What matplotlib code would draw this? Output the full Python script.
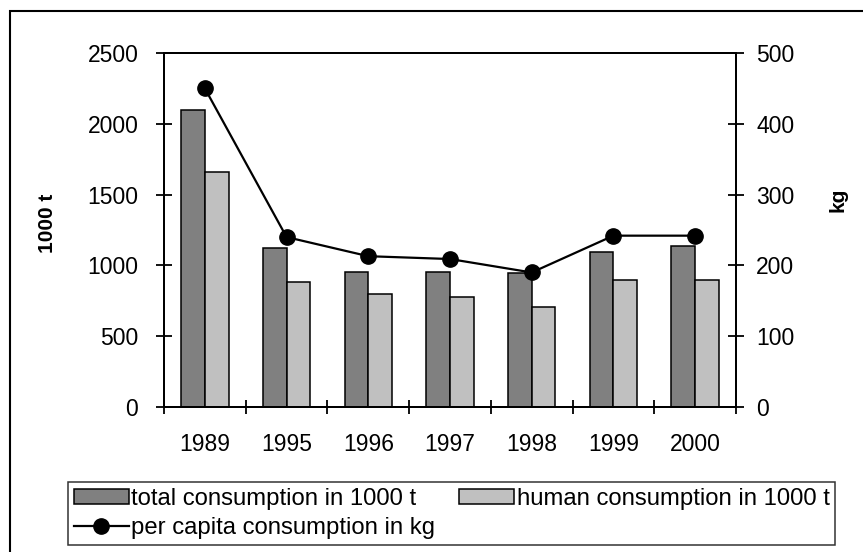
import matplotlib

matplotlib.use("Agg")
import matplotlib.pyplot as plt
import numpy as np
from matplotlib.patches import Rectangle

plt.rcParams["font.family"] = ["Liberation Sans", "DejaVu Sans"]

years = ["1989", "1995", "1996", "1997", "1998", "1999", "2000"]
total_consumption = [2100, 1120, 950, 955, 945, 1095, 1140]
human_consumption = [1660, 880, 800, 775, 705, 900, 900]
per_capita_kg = [450, 240, 213, 209, 190, 242, 242]

figure = plt.figure(figsize=(8.63, 5.52), dpi=100)
# outer chart frame (runs off the right and bottom edge)
figure.patches.append(Rectangle((10 / 863, -0.05), 1.0, 1.05 - 11 / 552, transform=figure.transFigure,
                                fill=False, edgecolor="black", linewidth=1.5))

axis = figure.add_axes([164 / 863, 1 - 407 / 552, 572 / 863, 354 / 552])
positions = np.arange(len(years))
bar_width = 0.29
bars_total = axis.bar(positions - bar_width / 2, total_consumption, bar_width, color="#808080",
                      edgecolor="black", linewidth=1.1)
bars_human = axis.bar(positions + bar_width / 2, human_consumption, bar_width, color="#c0c0c0",
                      edgecolor="black", linewidth=1.1)
axis.set_xlim(-0.5, len(years) - 0.5)
axis.set_ylim(0, 2500)
axis.set_yticks(range(0, 2501, 500))
axis.set_xticks(positions)
axis.set_xticklabels(years)
axis.set_xticks(np.arange(-0.5, len(years)), minor=True)
axis.tick_params(axis="x", which="major", length=0, pad=18.5, labelsize=16.5)
axis.tick_params(axis="x", which="minor", direction="inout", length=10, width=1.3)
axis.tick_params(axis="y", direction="inout", length=12, width=1.3, labelsize=16.5, pad=12.5)
axis.set_ylabel("1000 t", fontsize=15, fontweight="bold")
axis.yaxis.set_label_coords(-0.187, 0.52)
for spine in axis.spines.values():
    spine.set_linewidth(1.4)

right_axis = axis.twinx()
line, = right_axis.plot(positions, per_capita_kg, color="black", linewidth=1.6, marker="o",
                        markersize=11)
right_axis.set_ylim(0, 500)
right_axis.set_yticks(range(0, 501, 100))
right_axis.tick_params(axis="y", direction="inout", length=12, width=1.3, labelsize=16.5, pad=8.5)
right_axis.set_ylabel("kg", fontsize=15, fontweight="bold", rotation=90)
right_axis.yaxis.set_label_coords(1.161, 0.585)
for spine in right_axis.spines.values():
    spine.set_linewidth(1.4)

legend = figure.legend([bars_total, line, bars_human],
                       ["total consumption in 1000 t", "per capita consumption in kg",
                        "human consumption in 1000 t"],
                       ncol=2, loc="upper left", bbox_to_anchor=(68 / 863, 1 - 482 / 552),
                       fontsize=17.2, frameon=True, fancybox=False, handlelength=2.3, handleheight=0.6,
                       handletextpad=0.1, columnspacing=1.0, labelspacing=0.3, borderpad=0.25,
                       borderaxespad=0.0)
legend.get_frame().set_edgecolor("black")
legend.get_frame().set_linewidth(1.1)

figure.savefig("out.png", dpi=100)
